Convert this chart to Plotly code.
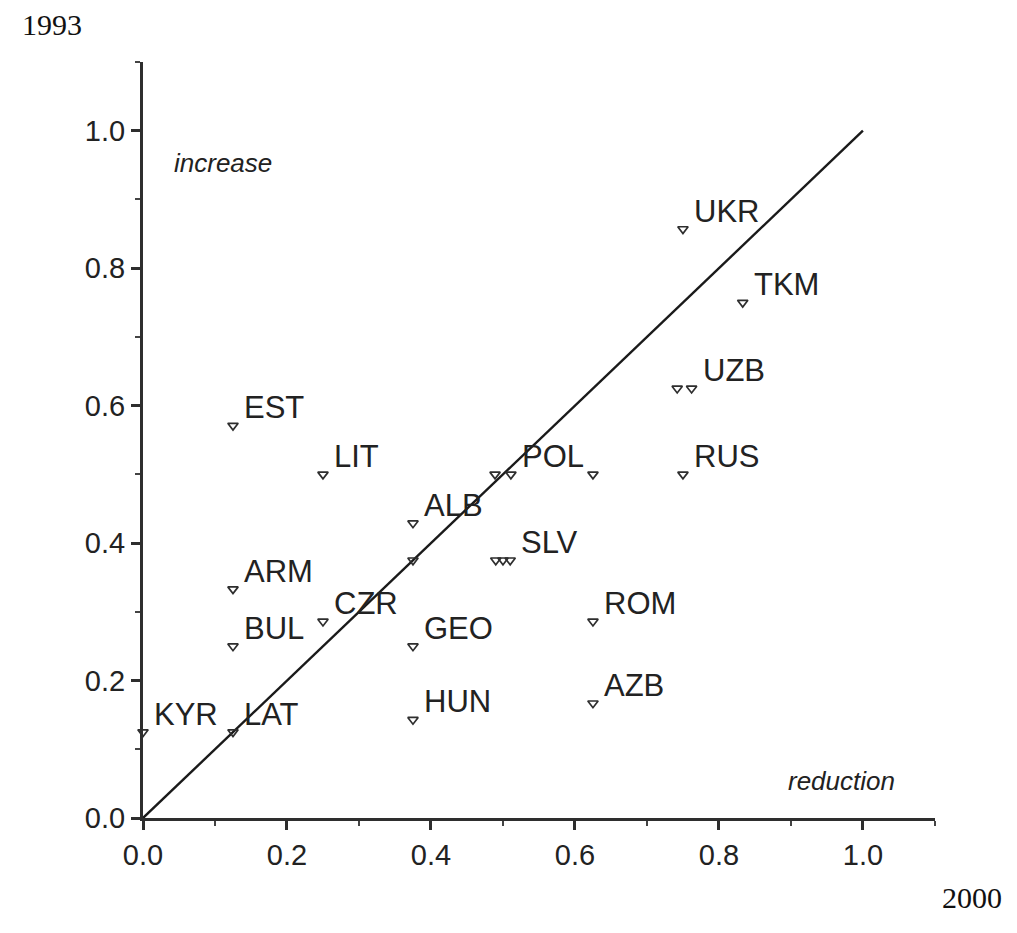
import plotly.graph_objects as go

# Labelled countries: share in 2000 (x) vs 1993 (y)
countries = ["UKR", "TKM", "UZB", "RUS", "EST", "LIT", "POL", "ALB", "SLV",
             "ARM", "BUL", "CZR", "GEO", "HUN", "ROM", "AZB", "KYR", "LAT"]
x2000 = [0.75, 0.833, 0.762, 0.75, 0.125, 0.25, 0.511, 0.375, 0.51,
         0.125, 0.125, 0.25, 0.375, 0.375, 0.625, 0.625, 0.0, 0.125]
y1993 = [0.857, 0.75, 0.625, 0.5, 0.571, 0.5, 0.5, 0.429, 0.375,
         0.333, 0.25, 0.286, 0.25, 0.143, 0.286, 0.167, 0.125, 0.125]

# Additional unlabelled observations
extra_x = [0.742, 0.489, 0.625, 0.49, 0.50, 0.375]
extra_y = [0.625, 0.5, 0.5, 0.375, 0.375, 0.375]

# Diagonal reference line
diag_x = [0.0, 1.0]
diag_y = [0.0, 1.0]

tick_vals = [0.0, 0.2, 0.4, 0.6, 0.8, 1.0]
tick_text = ["0.0", "0.2", "0.4", "0.6", "0.8", "1.0"]

LABEL_FONT = "Liberation Sans Narrow, Arial Narrow, Liberation Sans, Arial, sans-serif"
INK = "#222222"

fig = go.Figure()

fig.add_trace(go.Scatter(x=diag_x, y=diag_y, mode="lines",
                         line=dict(color="#1a1a1a", width=2.4),
                         hoverinfo="skip", showlegend=False, cliponaxis=False))

fig.add_trace(go.Scatter(x=x2000 + extra_x, y=y1993 + extra_y, mode="markers",
                         marker=dict(symbol="triangle-down-open", size=9,
                                     color="#2e2e2e", line=dict(width=1.7, color="#2e2e2e")),
                         showlegend=False, cliponaxis=False))

for name, xv, yv in zip(countries, x2000, y1993):
    fig.add_annotation(x=xv, y=yv, xref="x", yref="y", text=name, showarrow=False,
                       xanchor="left", yanchor="middle", xshift=9, yshift=18,
                       font=dict(family=LABEL_FONT, size=31, color=INK))

fig.add_annotation(x=0.04, y=0.953, xref="x", yref="y", text="<i>increase</i>",
                   showarrow=False, xanchor="left", yanchor="middle",
                   font=dict(family=LABEL_FONT, size=26, color=INK))
fig.add_annotation(x=1.047, y=0.054, xref="x", yref="y", text="<i>reduction</i>",
                   showarrow=False, xanchor="right", yanchor="middle",
                   font=dict(family=LABEL_FONT, size=26, color=INK))

fig.add_annotation(x=-0.155, y=1.049, xref="paper", yref="paper", text="1993",
                   showarrow=False, xanchor="left", yanchor="middle",
                   font=dict(family="Liberation Serif, Times New Roman, serif", size=30, color="#111"))
fig.add_annotation(x=1.006, y=-0.105, xref="paper", yref="paper", text="2000",
                   showarrow=False, xanchor="left", yanchor="middle",
                   font=dict(family="Liberation Serif, Times New Roman, serif", size=30, color="#111"))

axis_common = dict(
    tickmode="array", tickvals=tick_vals, ticktext=tick_text,
    showgrid=False, zeroline=False, showline=True, linewidth=3, linecolor="#2e2e2e",
    ticks="outside", ticklen=9, tickwidth=3, tickcolor="#2e2e2e",
    tickfont=dict(family=LABEL_FONT, size=29, color=INK),
    minor=dict(dtick=0.1, tick0=0, ticks="outside", ticklen=5, tickwidth=2,
               tickcolor="#444444", showgrid=False),
    fixedrange=True,
)

fig.update_xaxes(range=[0, 1.1001], ticklabelstandoff=0, **axis_common)
fig.update_yaxes(range=[0, 1.1], ticklabelstandoff=0, **axis_common)

fig.update_layout(
    width=1017, height=933,
    margin=dict(l=143, r=82, t=62, b=115),
    paper_bgcolor="white", plot_bgcolor="white",
    showlegend=False,
)

fig.write_html("out.html")
